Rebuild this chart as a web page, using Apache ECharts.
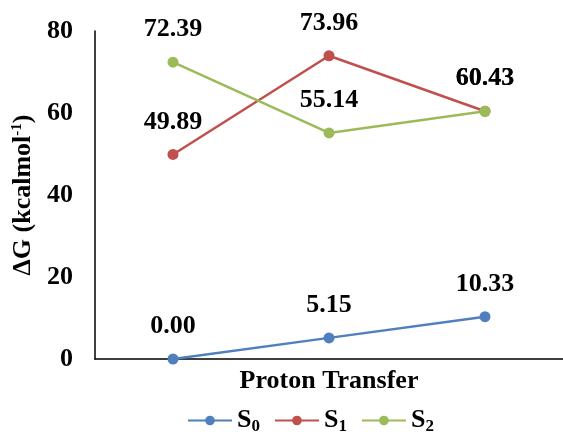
<!DOCTYPE html>
<html><head><meta charset="utf-8">
<script src="https://cdn.jsdelivr.net/npm/echarts@6/dist/echarts.min.js"></script>
<style>html,body{margin:0;padding:0;background:#fff}#c{width:563px;height:437px}</style>
</head><body><div id="c"></div>
<script>
const categories = ['A', 'B', 'C'];
const s0 = [0.00, 5.15, 10.33];
const s1 = [49.89, 73.96, 60.43];
const s2 = [72.39, 55.14, 60.43];
const yTicks = [0, 20, 40, 60, 80];
const seriesNames = ['S0', 'S1', 'S2'];
const colors = ['#4F7FBF', '#C0504D', '#9BBB59'];

const font = 'Liberation Serif';
const chart = echarts.init(document.getElementById('c'));
function mk(name, data, color) {
  return {
    name, type: 'line', data,
    symbol: 'circle', symbolSize: 11,
    lineStyle: { width: 2.5, color },
    itemStyle: { color },
    label: { show: true, position: 'top', distance: 14, formatter: p => p.value.toFixed(2),
      fontFamily: font, fontWeight: 'bold', fontSize: 26, color: '#000' }
  };
}
chart.setOption({
  animation: false,
  grid: { left: 95, top: 31, bottom: 78, right: -9 },
  xAxis: {
    type: 'category', data: categories, boundaryGap: true,
    axisLine: { lineStyle: { color: '#000', width: 1.5 } },
    axisTick: { show: false }, axisLabel: { show: false },
    name: 'Proton Transfer', nameLocation: 'middle', nameGap: 9,
    nameTextStyle: { fontFamily: font, fontWeight: 'bold', fontSize: 26, color: '#000' }
  },
  yAxis: {
    type: 'value', min: 0, max: 80, interval: 20,
    axisLine: { show: true, lineStyle: { color: '#000', width: 1.5 } },
    axisTick: { show: false }, splitLine: { show: false },
    axisLabel: { fontFamily: font, fontWeight: 'bold', fontSize: 26, color: '#000', margin: 22,
      formatter: v => yTicks.includes(v) ? String(v) : '' },
    name: 'ΔG (kcalmol{sup|-1})', nameLocation: 'middle', nameGap: 57, nameRotate: 90,
    nameTextStyle: { fontFamily: font, fontWeight: 'bold', fontSize: 26, color: '#000',
      rich: { sup: { fontFamily: font, fontWeight: 'bold', fontSize: 15, color: '#000', verticalAlign: 'top', padding: [0, 0, 10, 0] } } }
  },
  legend: {
    bottom: -3, left: 182, itemWidth: 44, itemHeight: 12, itemGap: 14,
    data: seriesNames,
    formatter: n => '{b|S}{s|' + n.slice(1) + '}',
    textStyle: { fontFamily: font, fontWeight: 'bold', fontSize: 26, color: '#000',
      rich: { b: { fontFamily: font, fontWeight: 'bold', fontSize: 26, color: '#000' },
              s: { fontFamily: font, fontWeight: 'bold', fontSize: 17, color: '#000', padding: [12, 0, 0, 0] } } }
  },
  series: [mk(seriesNames[0], s0, colors[0]), mk(seriesNames[1], s1, colors[1]), mk(seriesNames[2], s2, colors[2])]
});
</script></body></html>
